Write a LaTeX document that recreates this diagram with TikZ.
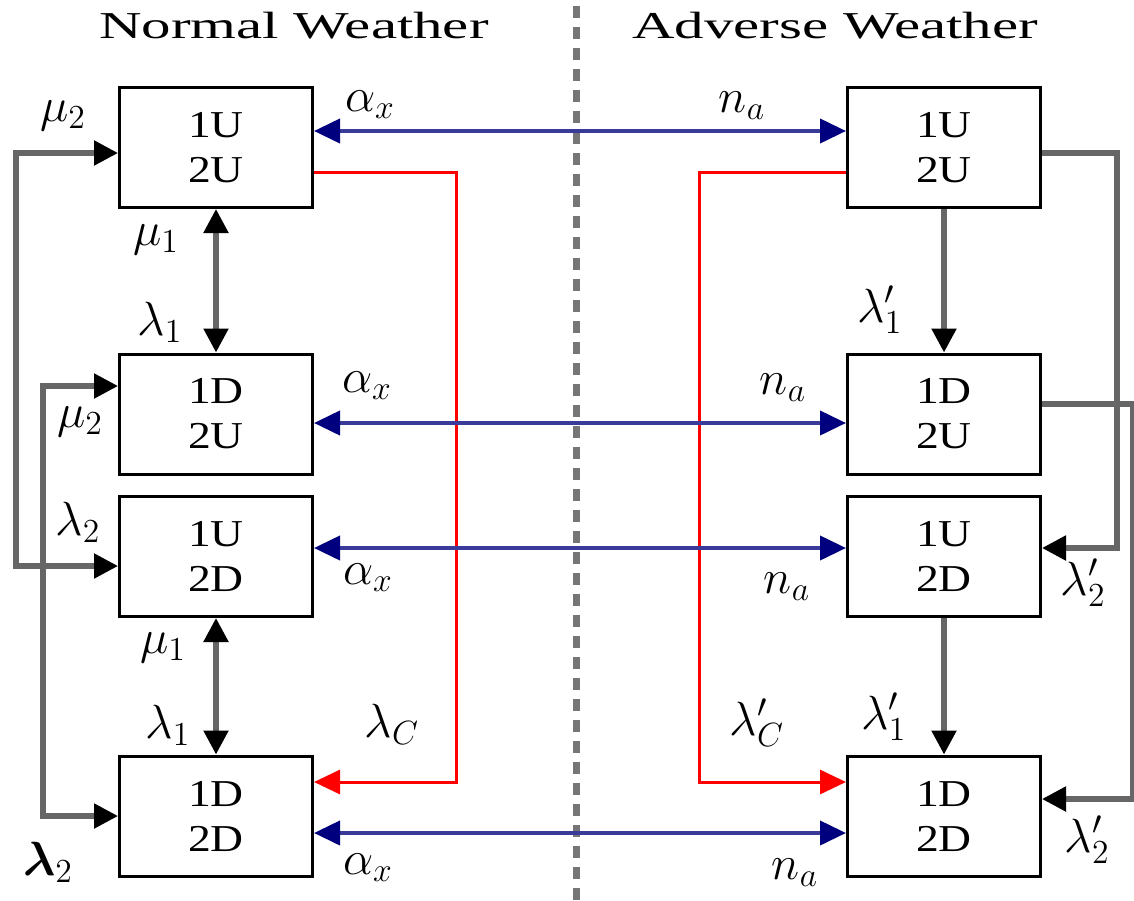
\documentclass[tikz,border=0pt]{standalone}
\usepackage{fix-cm}
\usepackage{bm}
\usepackage{fontspec}
\setmainfont{Liberation Serif}
\newfontfamily\ttlfont[FakeStretch=1.55]{Liberation Serif}
\newfontfamily\boxfont[FakeStretch=1.2]{Liberation Serif}
\usetikzlibrary{arrows.meta}
\definecolor{linkgray}{HTML}{666666}
\definecolor{dashgray}{HTML}{767676}
\definecolor{ratenavy}{HTML}{3A3A9A}
\definecolor{tipnavy}{HTML}{00007F}
\definecolor{repred}{HTML}{FF0000}
\tikzset{
  gtip/.tip={Triangle[length=12pt,width=12pt,color=black]},
  btip/.tip={Triangle[length=13pt,width=12pt,color=tipnavy]},
  rtip/.tip={Triangle[length=13pt,width=12pt]}}

\begin{document}
\begin{tikzpicture}[x=0.5pt, y=-0.5pt,
  font=\fontsize{19}{23}\selectfont,
  state/.style={draw, line width=1.5pt, minimum width=96.5pt, minimum height=60pt,
                inner sep=0pt, align=center, font=\boxfont\fontsize{19}{22.5}\selectfont},
  ttl/.style={inner sep=0pt, font=\ttlfont\fontsize{19}{23}\selectfont},
  lbl/.style={inner sep=0pt, font=\fontsize{24}{28}\selectfont},
  glink/.style={linkgray, line width=2.6pt},
  blink/.style={ratenavy, line width=2pt, btip-btip},
  rlink/.style={repred, line width=1.5pt, -rtip}]
\useasboundingbox (0,0) rectangle (1134,900);

% ================================================ titles and divider
\node[ttl] (tnorm) at (294,26) {Normal Weather};
\node[ttl] (tadv) at (835,26) {Adverse Weather};
\draw[dashgray, line width=3.5pt, dash pattern=on 6pt off 4.5pt] (576,6) -- (576,900);

% ================================================ states
\node[state] (nUU) at (216,147.5) {1U\\2U};
\node[state] (nDU) at (216,414)   {1D\\2U};
\node[state] (nUD) at (216,556.5) {1U\\2D};
\node[state] (nDD) at (216,816)   {1D\\2D};
\node[state] (aUU) at (944,147.5) {1U\\2U};
\node[state] (aDU) at (944,414)   {1D\\2U};
\node[state] (aUD) at (944,556.5) {1U\\2D};
\node[state] (aDD) at (944,816)   {1D\\2D};

% ================================================ normal weather transitions
\draw[glink, gtip-gtip] (nUU.south) -- (nDU.north);
\draw[glink, gtip-gtip] (nUD.south) -- (nDD.north);
\draw[glink, gtip-gtip] ([yshift=-2.75pt]nUU.west) -- ++(-102,0) |- ([yshift=-4.75pt]nUD.west);
\draw[glink, gtip-gtip] ([yshift=14pt]nDU.west) -- ++(-75,0) |- (nDD.west);
\draw[rlink] ([yshift=-12.25pt]nUU.east) -- ++(142,0) |- ([yshift=17pt]nDD.east);

% ================================================ adverse weather transitions
\draw[glink, -gtip] (aUU.south) -- (aDU.north);
\draw[glink, -gtip] (aUD.south) -- (aDD.north);
\draw[glink, -gtip] ([yshift=-2.75pt]aUU.east) -- ++(75,0) |- ([yshift=4.25pt]aUD.east);
\draw[glink, -gtip] ([yshift=5pt]aDU.east) -- ++(91,0) |- ([yshift=8.5pt]aDD.east);
\draw[rlink] ([yshift=-12.25pt]aUU.west) -- ++(-147,0) |- ([yshift=17pt]aDD.west);

% ================================================ weather changes
\draw[blink] ([yshift=8.25pt]nUU.east) -- ([yshift=8.25pt]aUU.west);
\draw[blink] ([yshift=-4.5pt]nDU.east) -- ([yshift=-4.5pt]aDU.west);
\draw[blink] ([yshift=4.25pt]nUD.east) -- ([yshift=4.25pt]aUD.west);
\draw[blink] ([yshift=-8.5pt]nDD.east) -- ([yshift=-8.5pt]aDD.west);

% ================================================ rates
\node[lbl] (lmuA) at (63,116)  {$\mu_2$};
\node[lbl] (lmuB) at (156,240) {$\mu_1$};
\node[lbl] (llaA) at (160,322) {$\lambda_1$};
\node[lbl] (lmuC) at (80,422)  {$\mu_2$};
\node[lbl] (llaB) at (78,522)  {$\lambda_2$};
\node[lbl] (lmuD) at (163,648) {$\mu_1$};
\node[lbl] (llaC) at (168,725) {$\lambda_1$};
\node[lbl] (llaD) at (392,724) {$\lambda_C$};
\node[lbl] (llaE) at (48,862)  {$\bm{\lambda}_2$};
\foreach \n/\x/\y in {axA/370/105, axB/367/386, axC/368/578, axD/368/868}
  \node[lbl] (\n) at (\x,\y) {$\alpha_x$};
\foreach \n/\x/\y in {naA/742/106, naB/783/388, naC/787/587, naD/795/873}
  \node[lbl] (\n) at (\x,\y) {$n_a$};
\node[lbl] (lpA) at (880,310)  {$\lambda'_1$};
\node[lbl] (lpB) at (1083,583) {$\lambda'_2$};
\node[lbl] (lpC) at (757,723)  {$\lambda'_C$};
\node[lbl] (lpD) at (884,717)  {$\lambda'_1$};
\node[lbl] (lpE) at (1087,840) {$\lambda'_2$};

\end{tikzpicture}
\end{document}
